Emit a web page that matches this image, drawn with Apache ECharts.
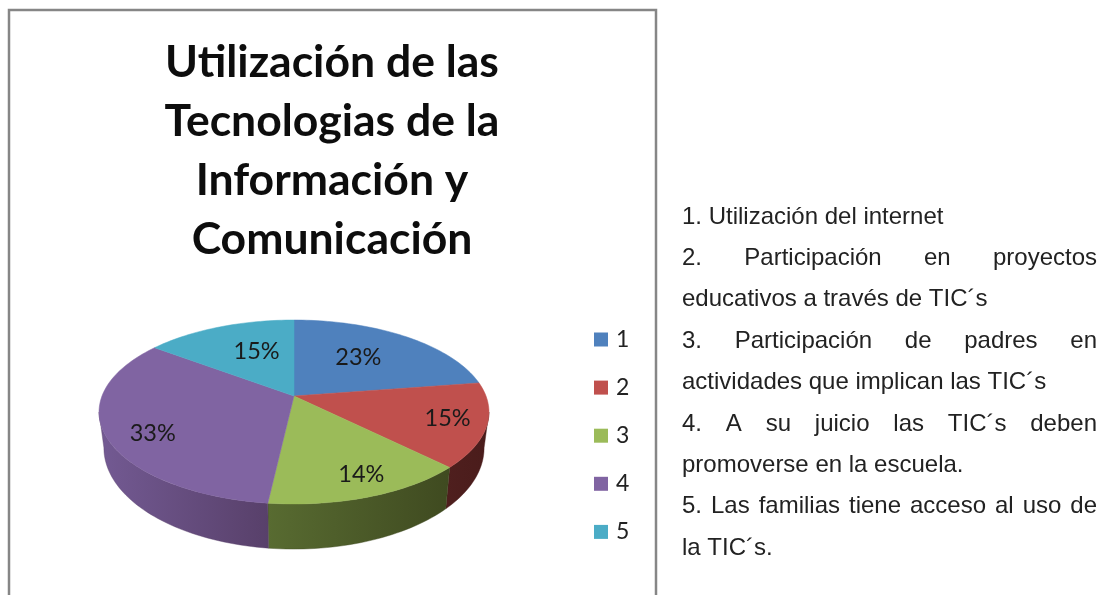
<!DOCTYPE html>
<html><head><meta charset="utf-8">
<style>html,body{margin:0;padding:0;background:#fff}#c{width:1101px;height:595px}</style>
<script src="https://cdn.jsdelivr.net/npm/echarts@6/dist/echarts.min.js"></script>
</head><body><div id="c"></div>
<script>
const categories = ['1','2','3','4','5'];
const shares = [22.6,14.8,14.4,33.4,14.8];
const titleLines = ['Utilización de las','Tecnologias de la','Información y','Comunicación'];
const noteLines = [
 ['1. Utilización del internet', false],
 ['2. Participación en proyectos', true],
 ['educativos a través de TIC´s', false],
 ['3. Participación de padres en', true],
 ['actividades que implican las TIC´s', false],
 ['4. A su juicio las TIC´s deben', true],
 ['promoverse en la escuela.', false],
 ['5. Las familias tiene acceso al uso de', true],
 ['la TIC´s.', false]
];
const topColors = ['#4f81bd','#c0504d','#9bbb59','#8064a2','#4bacc6'];
const wallStops = [
 ['#3a5f8c','#3a5f8c'],['#4f1f1e','#4a1c1b'],['#586b31','#3f4a20'],['#735a93','#58406a'],['#37808f','#37808f']
];
const labelReach = [0.57,0.8,0.83,0.77,0.52];
const labelNudge = [[-2,-3],[1,-1],[6,-2],[2,9],[4,-6]];

const cx=294, cy=396, a=192, b=89.2, k=0.174;
const WALL_FROM=100, WALL_TO=260;
const rad=d=>d*Math.PI/180;
function project(t,f){
  const u=Math.sin(rad(t))*f, v=-Math.cos(rad(t))*f, w=1-k*v;
  return [cx+a*u/w, cy+b*v/w];
}
function arc(from,to,lower){
  const n=Math.max(2,Math.ceil((to-from)/1.5)), pts=[];
  for(let i=0;i<=n;i++){
    const p=project(from+(to-from)*i/n,1);
    pts.push(lower?[cx+(p[0]-cx)*0.975, cy+(p[1]-cy)*1.1+34.3]:p);
  }
  return pts;
}
const total=shares.reduce((s,v)=>s+v,0);
let running=0;
const series=categories.map((name,i)=>{
  const before=running; running+=shares[i];
  return {
    type:'custom', name, coordinateSystem:'none', silent:true, animation:false,
    itemStyle:{color:topColors[i]},
    data:[[before,shares[i]]],
    renderItem(params,api){
      const start=api.value(0)/total*360, end=(api.value(0)+api.value(1))/total*360;
      const children=[];
      const wf=Math.max(start,WALL_FROM), wt=Math.min(end,WALL_TO);
      if(wt>wf){
        const upper=arc(wf,wt,false), lower=arc(wf,wt,true).reverse();
        children.push({type:'polygon',z2:1,shape:{points:upper.concat(lower)},
          style:{fill:{type:'linear',x:0,y:0,x2:1,y2:0,colorStops:[
            {offset:0,color:wallStops[i][0]},{offset:1,color:wallStops[i][1]}]},
            stroke:wallStops[i][1],lineWidth:0.4}});
      }
      children.push({type:'polygon',z2:5,shape:{points:[[cx,cy]].concat(arc(start,end,false))},
        style:{fill:topColors[i],stroke:topColors[i],lineWidth:0.5}});
      const lp=project((start+end)/2,labelReach[i]);
      children.push({type:'text',z2:9,x:lp[0]+labelNudge[i][0],y:lp[1]+labelNudge[i][1],
        style:{text:Math.round(api.value(1))+'%',fill:'#1a1a1a',fontFamily:'Lato',fontSize:23.5,align:'center',verticalAlign:'middle'}});
      return {type:'group',children};
    }
  };
});

const measure=document.createElement('canvas').getContext('2d');
const NOTE_SIZE=24, NOTE_FAMILY='Arial';
measure.font=NOTE_SIZE+'px '+NOTE_FAMILY;
const graphics=[{type:'rect',z:-1,silent:true,shape:{x:9,y:10,width:647,height:620},
  style:{fill:'#fff',stroke:'#868686',lineWidth:2.5}}];
const NOTE_L=682, NOTE_R=1097;
noteLines.forEach(([line,justify],i)=>{
  const y=217+i*41.4;
  const words=justify?line.split(' '):[line];
  const widths=words.map(w=>measure.measureText(w).width);
  const gap=justify?(NOTE_R-NOTE_L-widths.reduce((s,v)=>s+v,0))/(words.length-1):0;
  let x=NOTE_L;
  words.forEach((w,j)=>{
    graphics.push({type:'text',x,y,silent:true,style:{text:w,font:NOTE_SIZE+'px '+NOTE_FAMILY,fill:'#222',verticalAlign:'middle'}});
    x+=widths[j]+gap;
  });
});

const chart=echarts.init(document.getElementById('c'),null,{renderer:'canvas'});
chart.setOption({
  backgroundColor:'#fff',
  animation:false,
  color:topColors,
  title:{text:titleLines.join('\n'),left:327,top:28,textAlign:'center',
    textStyle:{fontFamily:'Lato',fontWeight:'bold',fontSize:44.5,lineHeight:59,color:'#0d0d0d'}},
  legend:{orient:'vertical',left:589,top:323,itemWidth:14,itemHeight:14,itemGap:25.1,icon:'rect',
    selectedMode:false,data:categories,
    textStyle:{fontFamily:'Lato',fontSize:23,lineHeight:20,color:'#222',padding:[0,0,0,3]}},
  graphic:graphics,
  series
});
</script></body></html>
